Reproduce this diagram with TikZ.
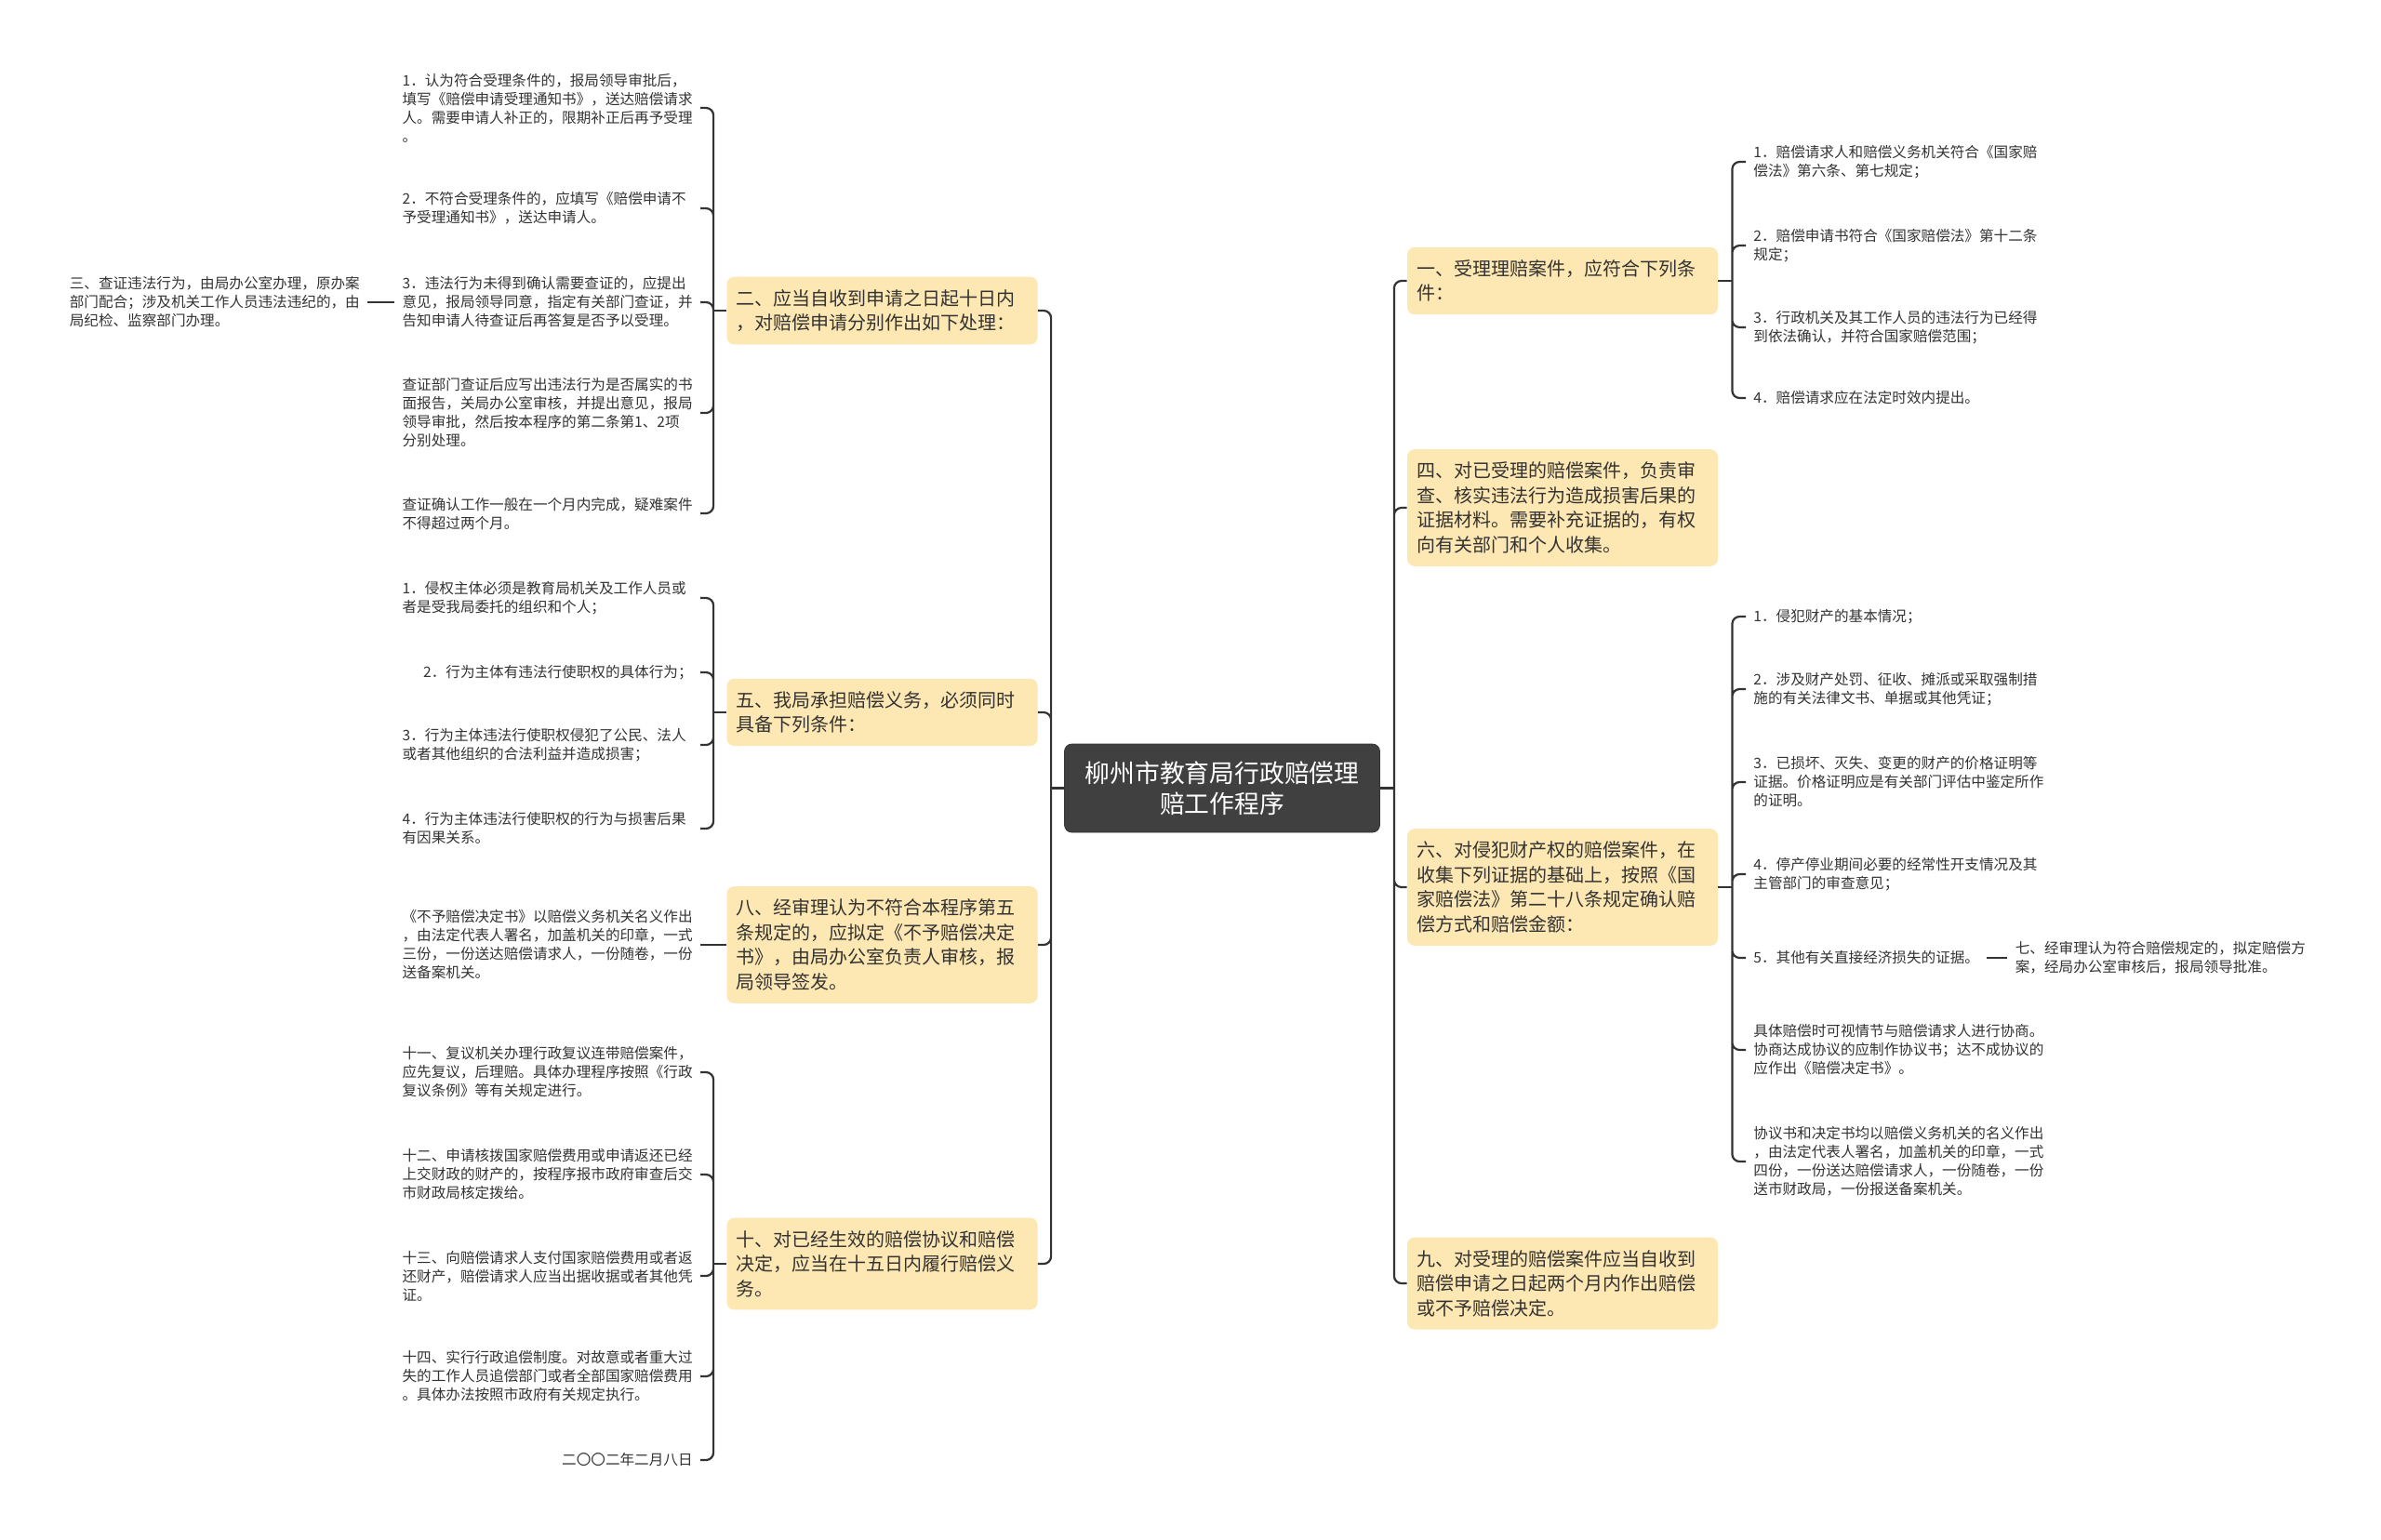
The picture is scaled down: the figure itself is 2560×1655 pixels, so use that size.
\documentclass[tikz,border=0pt]{standalone}
\usepackage{fontspec}
\setmainfont{Noto Sans CJK SC}
\usepackage{xcolor}
\usetikzlibrary{positioning}

\definecolor{rootfill}{RGB}{64,64,64}
\definecolor{topicfill}{RGB}{253,231,178}
\definecolor{inkgray}{RGB}{51,51,51}

\begin{document}
\begin{tikzpicture}[
  x=0.5pt, y=-0.5pt,
  node distance = 12pt,
  root/.style   = {rectangle, rounded corners=4pt, draw=rootfill!85!black, fill=rootfill,
                   text=white, minimum width=169.5pt, minimum height=47.5pt, align=center,
                   font=\fontsize{13.4pt}{16.7pt}\selectfont},
  topic/.style  = {rectangle, rounded corners=4pt, fill=topicfill, text=inkgray,
                   text width=157pt, inner xsep=5pt, inner ysep=6.8pt, align=left,
                   font=\fontsize{10pt}{13.3pt}\selectfont},
  leaf/.style   = {inner xsep=4pt, inner ysep=1pt, text=inkgray, align=left,
                   font=\fontsize{7.8pt}{10pt}\selectfont},
  leafl/.style  = {leaf, anchor=east},
  leafw/.style  = {leafl, text width=156pt},
  leafr/.style  = {leaf, anchor=west},
  link/.style   = {draw=inkgray, line width=1.1pt, rounded corners=4pt},
]

\fill[white] (0,0) rectangle (2560,1655);
\useasboundingbox (0,0) rectangle (2560,1655);

%% ── Root ──────────────────────────────────────────────────────────
\node[root] (root) at (1314,847.5) {柳州市教育局行政赔偿理\\赔工作程序};

%% ── Left topics ───────────────────────────────────────────────────
\node[topic] (n2)  at (948.5,334)  {二、应当自收到申请之日起十日内\\，对赔偿申请分别作出如下处理：};
\node[topic] (n5)  at (948.5,766)  {五、我局承担赔偿义务，必须同时\\具备下列条件：};
\node[topic] (n8)  at (948.5,1016) {八、经审理认为不符合本程序第五\\条规定的，应拟定《不予赔偿决定\\书》，由局办公室负责人审核，报\\局领导签发。};
\node[topic] (n10) at (948.5,1359) {十、对已经生效的赔偿协议和赔偿\\决定，应当在十五日内履行赔偿义\\务。};

%% ── Right topics ──────────────────────────────────────────────────
\node[topic] (n1) at (1680,302)  {一、受理理赔案件，应符合下列条\\件：};
\node[topic] (n4) at (1680,546)  {四、对已受理的赔偿案件，负责审\\查、核实违法行为造成损害后果的\\证据材料。需要补充证据的，有权\\向有关部门和个人收集。};
\node[topic] (n6) at (1680,954)  {六、对侵犯财产权的赔偿案件，在\\收集下列证据的基础上，按照《国\\家赔偿法》第二十八条规定确认赔\\偿方式和赔偿金额：};
\node[topic] (n9) at (1680,1380) {九、对受理的赔偿案件应当自收到\\赔偿申请之日起两个月内作出赔偿\\或不予赔偿决定。};

%% ── Leaves of 二 ───────────────────────────────────────────────────
\node[leafw] (l21) at (753,116) {1．认为符合受理条件的，报局领导审批后，\\填写《赔偿申请受理通知书》，送达赔偿请求\\人。需要申请人补正的，限期补正后再予受理\\。};
\node[leafw] (l22) at (753,224) {2．不符合受理条件的，应填写《赔偿申请不\\予受理通知书》，送达申请人。};
\node[leafw] (l23) at (753,325) {3．违法行为未得到确认需要查证的，应提出\\意见，报局领导同意，指定有关部门查证，并\\告知申请人待查证后再答复是否予以受理。};
\node[leafw] (l24) at (753,444) {查证部门查证后应写出违法行为是否属实的书\\面报告，关局办公室审核，并提出意见，报局\\领导审批，然后按本程序的第二条第1、2项\\分别处理。};
\node[leafw] (l25) at (753,552) {查证确认工作一般在一个月内完成，疑难案件\\不得超过两个月。};
\node[leaf, left=14.5pt of l23] (l3) {三、查证违法行为，由局办公室办理，原办案\\部门配合；涉及机关工作人员违法违纪的，由\\局纪检、监察部门办理。};

%% ── Leaves of 五 ───────────────────────────────────────────────────
\node[leafw] (l51) at (753,643) {1．侵权主体必须是教育局机关及工作人员或\\者是受我局委托的组织和个人；};
\node[leafl] (l52) at (753,723) {2．行为主体有违法行使职权的具体行为；};
\node[leafw] (l53) at (753,801) {3．行为主体违法行使职权侵犯了公民、法人\\或者其他组织的合法利益并造成损害；};
\node[leafw] (l54) at (753,891) {4．行为主体违法行使职权的行为与损害后果\\有因果关系。};

%% ── Leaf of 八 ─────────────────────────────────────────────────────
\node[leafw] (l81) at (753,1016) {《不予赔偿决定书》以赔偿义务机关名义作出\\，由法定代表人署名，加盖机关的印章，一式\\三份，一份送达赔偿请求人，一份随卷，一份\\送备案机关。};

%% ── Leaves of 十 ───────────────────────────────────────────────────
\node[leafw] (l101) at (753,1153) {十一、复议机关办理行政复议连带赔偿案件，\\应先复议，后理赔。具体办理程序按照《行政\\复议条例》等有关规定进行。};
\node[leafw] (l102) at (753,1263) {十二、申请核拨国家赔偿费用或申请返还已经\\上交财政的财产的，按程序报市政府审查后交\\市财政局核定拨给。};
\node[leafw] (l103) at (753,1372) {十三、向赔偿请求人支付国家赔偿费用或者返\\还财产，赔偿请求人应当出据收据或者其他凭\\证。};
\node[leafw] (l104) at (753,1480) {十四、实行行政追偿制度。对故意或者重大过\\失的工作人员追偿部门或者全部国家赔偿费用\\。具体办法按照市政府有关规定执行。};
\node[leafl] (l105) at (753,1570) {二〇〇二年二月八日};

%% ── Leaves of 一 ───────────────────────────────────────────────────
\node[leafr] (r11) at (1877,174) {1．赔偿请求人和赔偿义务机关符合《国家赔\\偿法》第六条、第七规定；};
\node[leafr] (r12) at (1877,264) {2．赔偿申请书符合《国家赔偿法》第十二条\\规定；};
\node[leafr] (r13) at (1877,352) {3．行政机关及其工作人员的违法行为已经得\\到依法确认，并符合国家赔偿范围；};
\node[leafr] (r14) at (1877,428) {4．赔偿请求应在法定时效内提出。};

%% ── Leaves of 六 ───────────────────────────────────────────────────
\node[leafr] (r61) at (1877,663)  {1．侵犯财产的基本情况；};
\node[leafr] (r62) at (1877,741)  {2．涉及财产处罚、征收、摊派或采取强制措\\施的有关法律文书、单据或其他凭证；};
\node[leafr] (r63) at (1877,841)  {3．已损坏、灭失、变更的财产的价格证明等\\证据。价格证明应是有关部门评估中鉴定所作\\的证明。};
\node[leafr] (r64) at (1877,940)  {4．停产停业期间必要的经常性开支情况及其\\主管部门的审查意见；};
\node[leafr] (r65) at (1877,1030) {5．其他有关直接经济损失的证据。};
\node[leafr] (r66) at (1877,1129) {具体赔偿时可视情节与赔偿请求人进行协商。\\协商达成协议的应制作协议书；达不成协议的\\应作出《赔偿决定书》。};
\node[leafr] (r67) at (1877,1249) {协议书和决定书均以赔偿义务机关的名义作出\\，由法定代表人署名，加盖机关的印章，一式\\四份，一份送达赔偿请求人，一份随卷，一份\\送市财政局，一份报送备案机关。};
\node[leaf, right=11pt of r65] (r7) {七、经审理认为符合赔偿规定的，拟定赔偿方\\案，经局办公室审核后，报局领导批准。};

%% ── Connectors ────────────────────────────────────────────────────
\draw[link] (root.west) -- ++(-14,0) coordinate (tl);
\draw[link] (tl) |- (n2.east) (tl) |- (n5.east) (tl) |- (n8.east) (tl) |- (n10.east);
\draw[link] (root.east) -- ++(15,0) coordinate (tr);
\draw[link] (tr) |- (n1.west) (tr) |- (n4.west) (tr) |- (n6.west) (tr) |- (n9.west);

\draw[link] (n2.west) -- ++(-14,0) coordinate (t2);
\draw[link] (t2) |- (l21.east) (t2) |- (l22.east) (t2) |- (l23.east)
            (t2) |- (l24.east) (t2) |- (l25.east);
\draw[link] (l23.west) -- (l3.east);

\draw[link] (n5.west) -- ++(-14,0) coordinate (t5);
\draw[link] (t5) |- (l51.east) (t5) |- (l52.east) (t5) |- (l53.east) (t5) |- (l54.east);

\draw[link] (n8.west) -- (l81.east);

\draw[link] (n10.west) -- ++(-14,0) coordinate (t10);
\draw[link] (t10) |- (l101.east) (t10) |- (l102.east) (t10) |- (l103.east)
            (t10) |- (l104.east) (t10) |- (l105.east);

\draw[link] (n1.east) -- ++(15,0) coordinate (t1);
\draw[link] (t1) |- (r11.west) (t1) |- (r12.west) (t1) |- (r13.west) (t1) |- (r14.west);

\draw[link] (n6.east) -- ++(15,0) coordinate (t6);
\draw[link] (t6) |- (r61.west) (t6) |- (r62.west) (t6) |- (r63.west) (t6) |- (r64.west)
            (t6) |- (r65.west) (t6) |- (r66.west) (t6) |- (r67.west);
\draw[link] (r65.east) -- (r7.west);

\end{tikzpicture}
\end{document}
